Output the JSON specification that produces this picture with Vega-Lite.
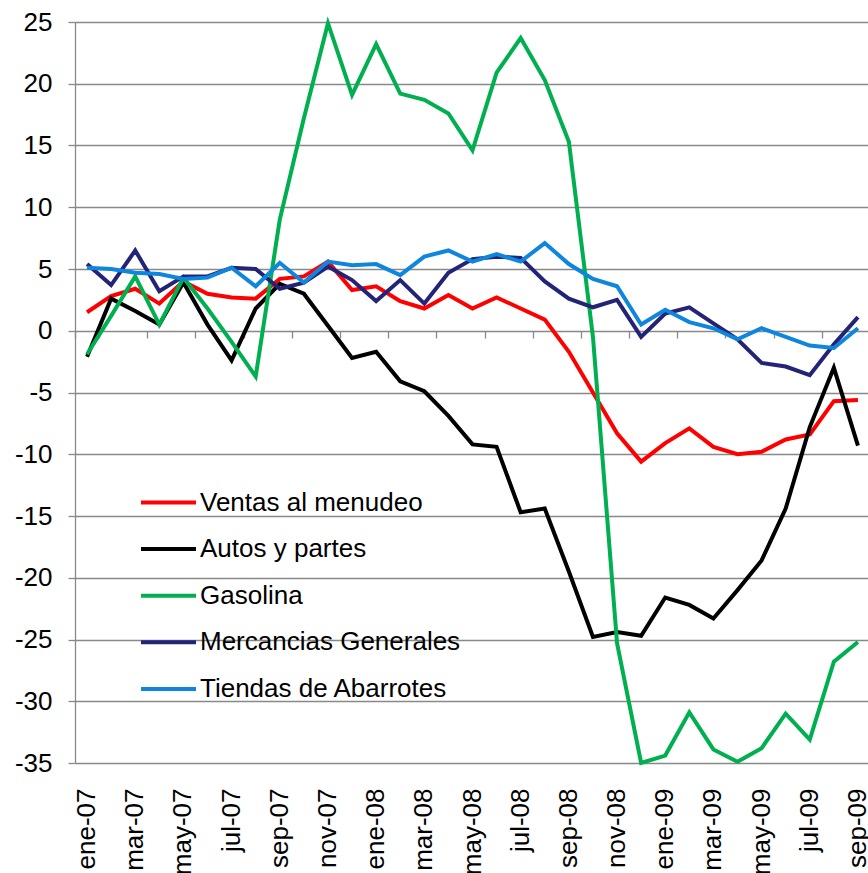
{
  "$schema": "https://vega.github.io/schema/vega-lite/v6.json",
  "autosize": {"type": "none"},
  "padding": {"left": 75, "top": 22, "right": 0, "bottom": 110},
  "width": 795,
  "height": 741,
  "background": "white",
  "config": {
    "view": {"stroke": null},
    "font": "Liberation Sans"
  },
  "data": {
    "values": [
      {"m": "ene-07", "Ventas al menudeo": 1.5, "Autos y partes": -2.1, "Gasolina": -1.9, "Mercancias Generales": 5.4, "Tiendas de Abarrotes": 5.1},
      {"m": "feb-07", "Ventas al menudeo": 2.8, "Autos y partes": 2.6, "Gasolina": 1.2, "Mercancias Generales": 3.7, "Tiendas de Abarrotes": 5.0},
      {"m": "mar-07", "Ventas al menudeo": 3.4, "Autos y partes": 1.6, "Gasolina": 4.4, "Mercancias Generales": 6.5, "Tiendas de Abarrotes": 4.7},
      {"m": "abr-07", "Ventas al menudeo": 2.2, "Autos y partes": 0.5, "Gasolina": 0.5, "Mercancias Generales": 3.2, "Tiendas de Abarrotes": 4.6},
      {"m": "may-07", "Ventas al menudeo": 4.0, "Autos y partes": 3.9, "Gasolina": 4.3, "Mercancias Generales": 4.4, "Tiendas de Abarrotes": 4.2},
      {"m": "jun-07", "Ventas al menudeo": 3.0, "Autos y partes": 0.5, "Gasolina": 1.8, "Mercancias Generales": 4.4, "Tiendas de Abarrotes": 4.3},
      {"m": "jul-07", "Ventas al menudeo": 2.7, "Autos y partes": -2.4, "Gasolina": -0.9, "Mercancias Generales": 5.1, "Tiendas de Abarrotes": 5.1},
      {"m": "ago-07", "Ventas al menudeo": 2.6, "Autos y partes": 1.8, "Gasolina": -3.7, "Mercancias Generales": 5.0, "Tiendas de Abarrotes": 3.6},
      {"m": "sep-07", "Ventas al menudeo": 4.2, "Autos y partes": 3.8, "Gasolina": 9.0, "Mercancias Generales": 3.4, "Tiendas de Abarrotes": 5.5},
      {"m": "oct-07", "Ventas al menudeo": 4.4, "Autos y partes": 3.0, "Gasolina": 17.2, "Mercancias Generales": 3.9, "Tiendas de Abarrotes": 3.9},
      {"m": "nov-07", "Ventas al menudeo": 5.6, "Autos y partes": 0.4, "Gasolina": 24.9, "Mercancias Generales": 5.2, "Tiendas de Abarrotes": 5.6},
      {"m": "dic-07", "Ventas al menudeo": 3.3, "Autos y partes": -2.2, "Gasolina": 19.1, "Mercancias Generales": 4.1, "Tiendas de Abarrotes": 5.3},
      {"m": "ene-08", "Ventas al menudeo": 3.6, "Autos y partes": -1.7, "Gasolina": 23.2, "Mercancias Generales": 2.4, "Tiendas de Abarrotes": 5.4},
      {"m": "feb-08", "Ventas al menudeo": 2.4, "Autos y partes": -4.1, "Gasolina": 19.2, "Mercancias Generales": 4.1, "Tiendas de Abarrotes": 4.5},
      {"m": "mar-08", "Ventas al menudeo": 1.8, "Autos y partes": -4.9, "Gasolina": 18.7, "Mercancias Generales": 2.2, "Tiendas de Abarrotes": 6.0},
      {"m": "abr-08", "Ventas al menudeo": 2.9, "Autos y partes": -6.9, "Gasolina": 17.6, "Mercancias Generales": 4.7, "Tiendas de Abarrotes": 6.5},
      {"m": "may-08", "Ventas al menudeo": 1.8, "Autos y partes": -9.2, "Gasolina": 14.6, "Mercancias Generales": 5.8, "Tiendas de Abarrotes": 5.6},
      {"m": "jun-08", "Ventas al menudeo": 2.7, "Autos y partes": -9.4, "Gasolina": 20.9, "Mercancias Generales": 6.0, "Tiendas de Abarrotes": 6.2},
      {"m": "jul-08", "Ventas al menudeo": 1.8, "Autos y partes": -14.7, "Gasolina": 23.7, "Mercancias Generales": 5.9, "Tiendas de Abarrotes": 5.6},
      {"m": "ago-08", "Ventas al menudeo": 0.9, "Autos y partes": -14.4, "Gasolina": 20.3, "Mercancias Generales": 4.0, "Tiendas de Abarrotes": 7.1},
      {"m": "sep-08", "Ventas al menudeo": -1.7, "Autos y partes": -19.5, "Gasolina": 15.3, "Mercancias Generales": 2.6, "Tiendas de Abarrotes": 5.4},
      {"m": "oct-08", "Ventas al menudeo": -5.0, "Autos y partes": -24.8, "Gasolina": -0.5, "Mercancias Generales": 1.9, "Tiendas de Abarrotes": 4.2},
      {"m": "nov-08", "Ventas al menudeo": -8.3, "Autos y partes": -24.4, "Gasolina": -25.3, "Mercancias Generales": 2.5, "Tiendas de Abarrotes": 3.6},
      {"m": "dic-08", "Ventas al menudeo": -10.6, "Autos y partes": -24.7, "Gasolina": -35.0, "Mercancias Generales": -0.5, "Tiendas de Abarrotes": 0.5},
      {"m": "ene-09", "Ventas al menudeo": -9.1, "Autos y partes": -21.6, "Gasolina": -34.4, "Mercancias Generales": 1.4, "Tiendas de Abarrotes": 1.7},
      {"m": "feb-09", "Ventas al menudeo": -7.9, "Autos y partes": -22.2, "Gasolina": -30.9, "Mercancias Generales": 1.9, "Tiendas de Abarrotes": 0.7},
      {"m": "mar-09", "Ventas al menudeo": -9.4, "Autos y partes": -23.3, "Gasolina": -33.9, "Mercancias Generales": 0.6, "Tiendas de Abarrotes": 0.2},
      {"m": "abr-09", "Ventas al menudeo": -10.0, "Autos y partes": -21.0, "Gasolina": -34.9, "Mercancias Generales": -0.7, "Tiendas de Abarrotes": -0.7},
      {"m": "may-09", "Ventas al menudeo": -9.8, "Autos y partes": -18.6, "Gasolina": -33.8, "Mercancias Generales": -2.6, "Tiendas de Abarrotes": 0.2},
      {"m": "jun-09", "Ventas al menudeo": -8.8, "Autos y partes": -14.4, "Gasolina": -31.0, "Mercancias Generales": -2.9, "Tiendas de Abarrotes": -0.5},
      {"m": "jul-09", "Ventas al menudeo": -8.4, "Autos y partes": -7.8, "Gasolina": -33.1, "Mercancias Generales": -3.6, "Tiendas de Abarrotes": -1.2},
      {"m": "ago-09", "Ventas al menudeo": -5.7, "Autos y partes": -3.0, "Gasolina": -26.8, "Mercancias Generales": -1.1, "Tiendas de Abarrotes": -1.4},
      {"m": "sep-09", "Ventas al menudeo": -5.6, "Autos y partes": -9.3, "Gasolina": -25.2, "Mercancias Generales": 1.1, "Tiendas de Abarrotes": 0.2}
    ]
  },
  "layer": [
    {
      "transform": [
        {"fold": ["Ventas al menudeo", "Autos y partes", "Gasolina", "Mercancias Generales", "Tiendas de Abarrotes"], "as": ["serie", "valor"]}
      ],
      "mark": {"type": "line", "strokeWidth": 4, "strokeJoin": "miter"},
      "encoding": {
        "x": {
          "field": "m", "type": "ordinal", "sort": null, "bandPosition": 0.5,
          "scale": {"type": "band", "paddingInner": 0, "paddingOuter": 0},
          "axis": {
            "title": null, "labelAngle": -90, "labelFontSize": 26, "labelColor": "black",
            "labelFont": "Liberation Sans",
            "ticks": false, "tickSize": 0, "domain": false, "grid": false, "labelPadding": 25,
            "values": ["ene-07", "mar-07", "may-07", "jul-07", "sep-07", "nov-07", "ene-08", "mar-08", "may-08", "jul-08", "sep-08", "nov-08", "ene-09", "mar-09", "may-09", "jul-09", "sep-09"]
          }
        },
        "y": {
          "field": "valor", "type": "quantitative",
          "scale": {"domain": [-35, 25], "nice": false, "zero": false},
          "axis": {
            "title": null, "values": [-35, -30, -25, -20, -15, -10, -5, 0, 5, 10, 15, 20, 25],
            "labelExpr": "'' + datum.value",
            "labelFontSize": 26, "labelColor": "black", "labelFont": "Liberation Sans",
            "labelPadding": 16, "tickSize": 7, "tickColor": "#898989", "tickWidth": 1.3,
            "domainColor": "#898989", "domainWidth": 1.3,
            "grid": true, "gridColor": "#898989", "gridWidth": 1.3
          }
        },
        "color": {
          "field": "serie", "type": "nominal",
          "scale": {
            "domain": ["Ventas al menudeo", "Autos y partes", "Gasolina", "Mercancias Generales", "Tiendas de Abarrotes"],
            "range": ["#ff0000", "#000000", "#00b050", "#232378", "#0f86dd"]
          },
          "legend": {
            "title": null, "orient": "none", "legendX": 64, "legendY": 451,
            "symbolType": "stroke", "symbolSize": 3025, "symbolStrokeWidth": 4,
            "labelFontSize": 26, "labelFont": "Liberation Sans", "labelColor": "black",
            "labelOffset": 2, "rowPadding": 3.6, "padding": 0, "labelLimit": 400
          }
        }
      }
    },
    {
      "mark": {"type": "point", "opacity": 0},
      "encoding": {
        "x": {
          "field": "m", "type": "ordinal", "sort": null, "bandPosition": 0.5,
          "axis": {
            "title": null, "orient": "bottom", "offset": -432, "labels": false,
            "domain": false, "grid": false, "ticks": true, "tickBand": "extent",
            "tickSize": 7, "tickColor": "#898989", "tickWidth": 1.3,
            "values": ["ene-07", "mar-07", "may-07", "jul-07", "sep-07", "nov-07", "ene-08", "mar-08", "may-08", "jul-08", "sep-08", "nov-08", "ene-09", "mar-09", "may-09", "jul-09", "sep-09"]
          }
        }
      }
    }
  ],
  "resolve": {"axis": {"x": "independent"}}
}
